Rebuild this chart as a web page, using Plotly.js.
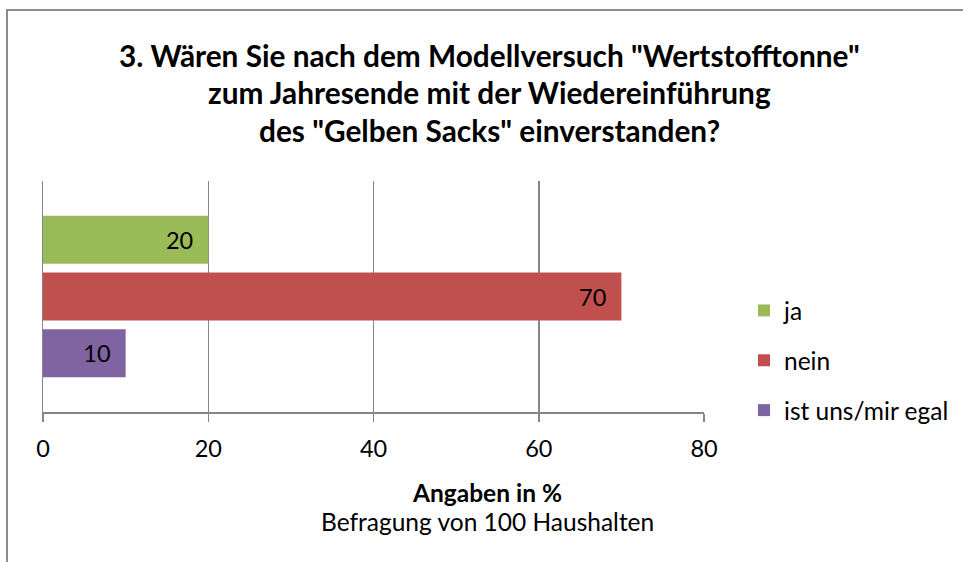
<!DOCTYPE html>
<html>
<head>
<meta charset="utf-8">
<script src="https://cdn.plot.ly/plotly-3.0.1.min.js"></script>
<style>
html,body{margin:0;padding:0;background:#fff;}
#frame{position:absolute;left:6px;top:9px;width:1000px;height:600px;border-left:2px solid #8c8c8c;border-top:2px solid #8c8c8c;box-sizing:border-box;}
#chart{position:absolute;left:0;top:0;width:963px;height:562px;}
</style>
</head>
<body>
<div id="frame"></div>
<div id="chart"></div>
<script>
const seriesNames = ["ja", "nein", "ist uns/mir egal"];
const seriesValues = [20, 70, 10];
const seriesColors = ["#9BBB59", "#C0504D", "#8064A2"];
const category = [""];
const titleLines = [
  '3. Wären Sie nach dem Modellversuch "Wertstofftonne"',
  'zum Jahresende mit der Wiedereinführung',
  'des "Gelben Sacks" einverstanden?'
];
const axisTitle = "Angaben in %";
const subTitle = "Befragung von 100 Haushalten";
const xTicks = [0, 20, 40, 60, 80];

const FONT = "Lato, 'Open Sans', sans-serif";

const traces = seriesNames.map((n, i) => ({
  type: "bar",
  orientation: "h",
  name: n,
  y: category,
  x: [seriesValues[i]],
  marker: {color: seriesColors[i]},
  text: [String(seriesValues[i]) + "\u00a0\u00a0"],
  textposition: "inside",
  insidetextanchor: "end",
  textfont: {family: FONT, size: 23.5, color: "#000"},
  legendgroup: "g" + i,
  hoverinfo: "x+name"
}));

const annotations = titleLines.map((t, i) => ({
  text: "<b>" + t + "</b>",
  xref: "paper", yref: "paper",
  x: (489 - 43) / 661,
  y: 1 + (181 - (55 + i * 37.5)) / 231,
  xanchor: "center", yanchor: "middle",
  showarrow: false,
  font: {family: FONT, size: 29.8, color: "#000"}
}));
annotations.push({
  text: "<b>" + axisTitle + "</b>",
  xref: "paper", yref: "paper",
  x: (487 - 43) / 661, y: -(492 - 412) / 231,
  xanchor: "center", yanchor: "middle", showarrow: false,
  font: {family: FONT, size: 24.5, color: "#000"}
});
annotations.push({
  text: subTitle,
  xref: "paper", yref: "paper",
  x: (487 - 43) / 661, y: -(521 - 412) / 231,
  xanchor: "center", yanchor: "middle", showarrow: false,
  font: {family: FONT, size: 24.5, color: "#000"}
});

const layout = {
  width: 963, height: 562,
  margin: {l: 43, r: 259, t: 181, b: 150, pad: 0},
  paper_bgcolor: "rgba(0,0,0,0)",
  plot_bgcolor: "rgba(0,0,0,0)",
  barmode: "group",
  bargap: 0.264,
  bargroupgap: 0.154,
  showlegend: true,
  legend: {
    xref: "container", yref: "container",
    x: 744 / 963, y: 1 - 288 / 562,
    xanchor: "left", yanchor: "top",
    font: {family: FONT, size: 24.5, color: "#000"},
    tracegroupgap: 15,
    bgcolor: "rgba(0,0,0,0)"
  },
  xaxis: {
    range: [0, 80],
    tickvals: xTicks,
    ticktext: xTicks.map(String),
    showgrid: true, gridcolor: "#868686", gridwidth: 1.5,
    zeroline: false,
    showline: true, linecolor: "#868686", linewidth: 1.5,
    ticks: "outside", ticklen: 8, tickcolor: "#868686", tickwidth: 1.5,
    ticklabelstandoff: 7,
    tickfont: {family: FONT, size: 23.5, color: "#000"},
    fixedrange: true
  },
  yaxis: {
    autorange: "reversed",
    showgrid: false, zeroline: false,
    showline: true, linecolor: "#868686", linewidth: 1.5,
    showticklabels: false, ticks: "",
    fixedrange: true
  },
  annotations: annotations,
  font: {family: FONT}
};

Plotly.newPlot("chart", traces, layout, {displayModeBar: false, staticPlot: true});
</script>
</body>
</html>
